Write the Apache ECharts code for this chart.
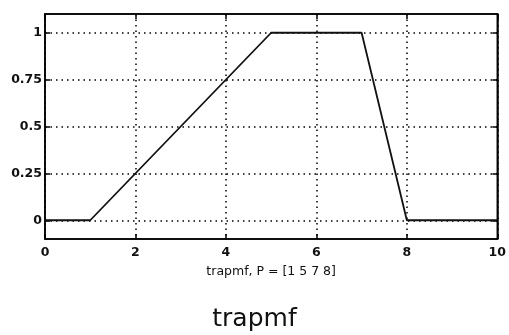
<!DOCTYPE html>
<html>
<head>
<meta charset="utf-8">
<script src="https://cdn.jsdelivr.net/npm/echarts@6/dist/echarts.min.js"></script>
<style>
html,body{margin:0;padding:0;background:#fff;}
#c{width:509px;height:335px;}
</style>
</head>
<body>
<div id="c"></div>
<script>
var xValues = [0, 1, 5, 7, 8, 10];
var yValues = [0, 0, 1, 1, 0, 0];
var xTicks = [0, 2, 4, 6, 8, 10];
var yTickValues = [0, 0.25, 0.5, 0.75, 1];
var yTickLabels = ['0', '0.25', '0.5', '0.75', '1'];
var titleText = 'trapmf';
var xAxisName = 'trapmf, P = [1 5 7 8]';

var points = xValues.map(function (x, i) { return [x, yValues[i]]; });
var font = 'DejaVu Sans';
var gridLine = {show: true, lineStyle: {type: [1.5, 4], color: '#000', width: 1.5}};
var tickStyle = {color: '#000', width: 1.5};

var chart = echarts.init(document.getElementById('c'), null, {renderer: 'canvas'});
chart.setOption({
  animation: false,
  backgroundColor: '#fff',
  title: {
    text: titleText,
    left: 'center',
    top: 302,
    textStyle: {fontFamily: font, fontSize: 25, fontWeight: 'normal', color: '#111'}
  },
  grid: {left: 45, top: 14, right: 9, bottom: 96, show: true, borderColor: '#000', borderWidth: 1.5, backgroundColor: 'transparent'},
  xAxis: [{
    type: 'value', min: 0, max: 10, interval: 2, position: 'bottom',
    name: xAxisName, nameLocation: 'middle', nameGap: 26,
    nameTextStyle: {fontFamily: font, fontSize: 12.5, color: '#111'},
    axisLine: {show: true, onZero: false, lineStyle: tickStyle},
    axisTick: {show: true, inside: true, length: 5, lineStyle: tickStyle},
    axisLabel: {fontFamily: font, fontSize: 12.5, fontWeight: 'bold', color: '#111', margin: 7,
      formatter: function (v) { return xTicks.indexOf(v) >= 0 ? String(v) : ''; }},
    splitLine: gridLine
  }, {
    type: 'value', min: 0, max: 10, interval: 2, position: 'top',
    axisLine: {show: true, onZero: false, lineStyle: tickStyle},
    axisTick: {show: true, inside: true, length: 5, lineStyle: tickStyle},
    axisLabel: {show: false}, splitLine: {show: false}
  }],
  yAxis: [{
    type: 'value', min: -0.1, max: 1.1, position: 'left',
    axisLine: {show: true, onZero: false, lineStyle: tickStyle},
    axisTick: {show: true, inside: true, length: 5, lineStyle: tickStyle, customValues: yTickValues},
    axisLabel: {fontFamily: font, fontSize: 12.5, fontWeight: 'bold', color: '#111', margin: 3,
      customValues: yTickValues,
      formatter: function (v) { var i = yTickValues.indexOf(v); return i >= 0 ? yTickLabels[i] : ''; }},
    splitLine: gridLine
  }, {
    type: 'value', min: -0.1, max: 1.1, position: 'right',
    axisLine: {show: true, onZero: false, lineStyle: tickStyle},
    axisTick: {show: true, inside: true, length: 5, lineStyle: tickStyle, customValues: yTickValues},
    axisLabel: {show: false, customValues: yTickValues}, splitLine: {show: false}
  }],
  series: [{
    type: 'line', data: points, xAxisIndex: 0, yAxisIndex: 0,
    symbol: 'none', lineStyle: {color: '#111', width: 1.8}
  }]
});
</script>
</body>
</html>
